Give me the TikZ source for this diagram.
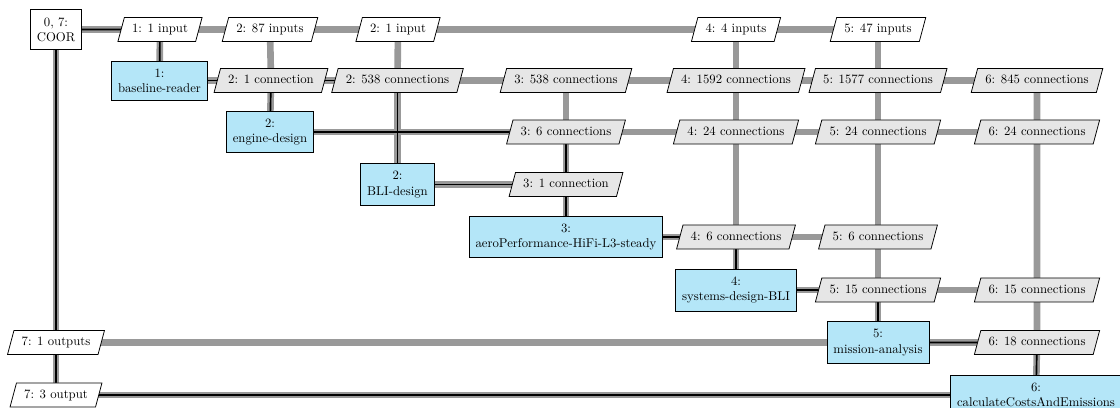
\documentclass[tikz,border=0pt]{standalone}
\usetikzlibrary{shapes.geometric}
\definecolor{funcblue}{RGB}{180,230,248}
\definecolor{conngray}{RGB}{230,230,230}
\definecolor{linegray}{RGB}{153,153,153}
\pgfdeclarelayer{datalayer}
\pgfdeclarelayer{proclayer}
\pgfsetlayers{datalayer,proclayer,main}
\tikzset{
  func/.style={draw, line width=0.6pt, fill=funcblue, align=center, inner xsep=5pt, inner ysep=6pt},
  coorbox/.style={func, fill=white},
  dataio/.style={draw, line width=0.6pt, trapezium, trapezium left angle=75, trapezium right angle=105, fill=white, inner xsep=6pt, inner ysep=5pt, text height=7pt, text depth=2pt},
  connbox/.style={dataio, fill=conngray},
  dline/.style={line width=5.2pt, color=linegray},
  pline/.style={line width=1.3pt, color=black}
}
\begin{document}
\begin{tikzpicture}[x=0.785pt,y=-0.785pt]
\useasboundingbox (0,0) rectangle (1120,408);
% row 0
\node[coorbox] (coor) at (56,29.5) {0, 7:\\COOR};
\node[dataio] (in1) at (160,29.5) {1: 1 input};
\node[dataio] (in2) at (270,29.5) {2: 87 inputs};
\node[dataio] (in3) at (398,29.5) {2: 1 input};
\node[dataio] (in5) at (736,29.5) {4: 4 inputs};
\node[dataio] (in6) at (878,29.5) {5: 47 inputs};
% row 1
\node[func] (f1) at (159.5,80.5) {1:\\baseline-reader};
\node[connbox] (c12) at (271,80.5) {2: 1 connection};
\node[connbox] (c13) at (397.5,80.5) {2: 538 connections};
\node[connbox] (c14) at (566,80.5) {3: 538 connections};
\node[connbox] (c15) at (736,80.5) {4: 1592 connections};
\node[connbox] (c16) at (878,80.5) {5: 1577 connections};
\node[connbox] (c17) at (1037,80.5) {6: 845 connections};
% row 2
\node[func] (f2) at (270,132) {2:\\engine-design};
\node[connbox] (c24) at (566,132) {3: 6 connections};
\node[connbox] (c25) at (736,132) {4: 24 connections};
\node[connbox] (c26) at (878,132) {5: 24 connections};
\node[connbox] (c27) at (1037,132) {6: 24 connections};
% row 3
\node[func] (f3) at (397.5,184.5) {2:\\BLI-design};
\node[connbox] (c34) at (566,184.5) {3: 1 connection};
% row 4
\node[func] (f4) at (566,237) {3:\\aeroPerformance-HiFi-L3-steady};
\node[connbox] (c45) at (736,237) {4: 6 connections};
\node[connbox] (c46) at (878,237) {5: 6 connections};
% row 5
\node[func] (f5) at (736,290) {4:\\systems-design-BLI};
\node[connbox] (c56) at (878,290) {5: 15 connections};
\node[connbox] (c57) at (1037,290) {6: 15 connections};
% row 6
\node[dataio] (out6) at (56,342.5) {7: 1 outputs};
\node[func] (f6) at (878,342.5) {5:\\mission-analysis};
\node[connbox] (c67) at (1037,342.5) {6: 18 connections};
% row 7
\node[dataio] (out7) at (56,395) {7: 3 output};
\node[func] (f7) at (1036,395) {6:\\calculateCostsAndEmissions};

\begin{pgfonlayer}{datalayer}
  % horizontals
  \draw[dline] (coor.center) -- (in1.center) -- (in2.center) -- (in3.center) -- (in5.center) -- (in6.center);
  \draw[dline] (f1.center) -- (c12.center) -- (c13.center) -- (c14.center) -- (c15.center) -- (c16.center) -- (c17.center);
  \draw[dline] (f2.center) -- (c24.center) -- (c25.center) -- (c26.center) -- (c27.center);
  \draw[dline] (f3.center) -- (c34.center);
  \draw[dline] (f4.center) -- (c45.center) -- (c46.center);
  \draw[dline] (f5.center) -- (c56.center) -- (c57.center);
  \draw[dline] (out6.center) -- (f6.center) -- (c67.center);
  \draw[dline] (out7.center) -- (f7.center);
  % verticals
  \draw[dline] (coor.center) -- (out6.center) -- (out7.center);
  \draw[dline] (in1.center) -- (f1.center);
  \draw[dline] (in2.center) -- (c12.center) -- (f2.center);
  \draw[dline] (in3.center) -- (c13.center) -- (f3.center);
  \draw[dline] (c14.center) -- (c24.center) -- (c34.center) -- (f4.center);
  \draw[dline] (in5.center) -- (c15.center) -- (c25.center) -- (c45.center) -- (f5.center);
  \draw[dline] (in6.center) -- (c16.center) -- (c26.center) -- (c46.center) -- (c56.center) -- (f6.center);
  \draw[dline] (c17.center) -- (c27.center) -- (c57.center) -- (c67.center) -- (f7.center);
\end{pgfonlayer}

\begin{pgfonlayer}{proclayer}
  \draw[pline] (coor.center) -- (in1.center) -- (f1.center);
  \draw[pline] (f1.center) -- (c12.center) -- (c13.center);
  \draw[pline] (c12.center) -- (f2.center);
  \draw[pline] (c13.center) -- (f3.center);
  \draw[pline] (f2.center) -- (c24.center) -- (c34.center) -- (f4.center);
  \draw[pline] (f3.center) -- (c34.center);
  \draw[pline] (f4.center) -- (c45.center) -- (f5.center);
  \draw[pline] (f5.center) -- (c56.center) -- (f6.center);
  \draw[pline] (f6.center) -- (c67.center) -- (f7.center);
  \draw[pline] (f7.center) -- (out7.center);
  \draw[pline] (coor.center) -- (out6.center) -- (out7.center);
\end{pgfonlayer}
\end{tikzpicture}
\end{document}
